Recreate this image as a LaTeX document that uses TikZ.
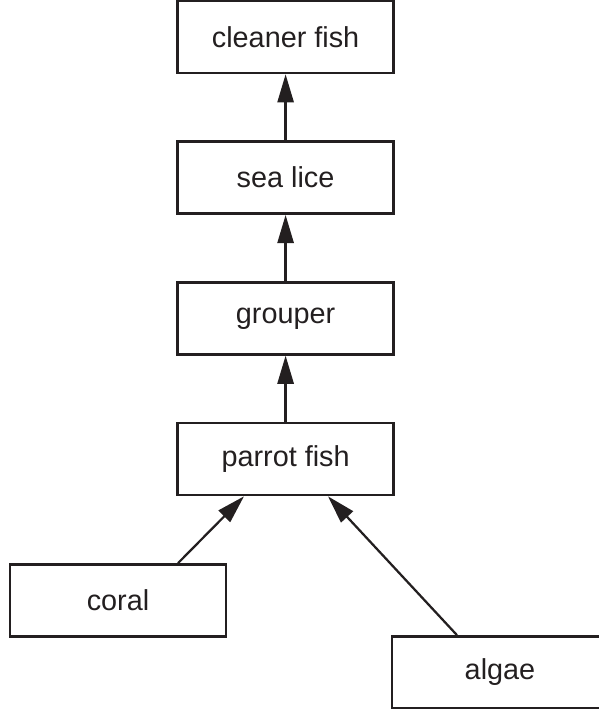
\documentclass[tikz,border=0pt]{standalone}
\usepackage{fontspec}
\setmainfont{Liberation Sans}
\usepackage{tikz}
\usetikzlibrary{arrows.meta, positioning}
\definecolor{inkgrey}{RGB}{35, 31, 32}

\begin{document}
\begin{tikzpicture}[
    foodbox/.style={rectangle, draw=inkgrey, line width=1.9pt, minimum width=5.4cm, minimum height=1.8cm, inner sep=0pt, text=inkgrey, font=\fontsize{20.5}{24}\selectfont},
    feeds/.style={-{Triangle[length=20pt, width=11.5pt]}, draw=inkgrey, fill=inkgrey, line width=1.6pt}
]
    \useasboundingbox (0,0) rectangle (14.95,17.725);

    % Main chain
    \node[foodbox] (parrot) at (7.14,6.25) {parrot fish};
    \node[foodbox, above=1.65cm of parrot] (grouper) {grouper};
    \node[foodbox, above=1.65cm of grouper] (sealice) {sea lice};
    \node[foodbox, above=1.65cm of sealice] (cleaner) {cleaner fish};

    % Producers
    \node[foodbox] (coral) at (2.95,2.7125) {coral};
    \node[foodbox] (algae) at (12.5,0.9125) {algae};

    % Arrows
    \draw[feeds] (parrot) -- (grouper);
    \draw[feeds] (grouper) -- (sealice);
    \draw[feeds] (sealice) -- (cleaner);
    \draw[feeds] ([xshift=1.5cm]coral.north) -- ([xshift=-1.04cm]parrot.south);
    \draw[feeds] ([xshift=-1.075cm]algae.north) -- ([xshift=1.06cm]parrot.south);
\end{tikzpicture}
\end{document}
